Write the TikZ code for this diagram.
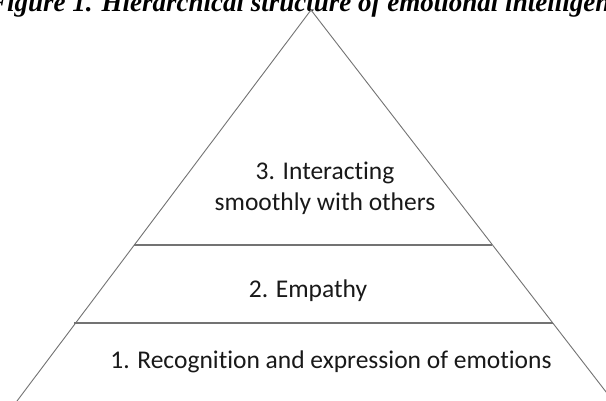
\documentclass[tikz,border=0pt]{standalone}
\usepackage{fontspec}
\setmainfont[Ligatures=NoCommon]{Carlito}
\newfontfamily\titlefont{Liberation Serif}
\begin{document}
\begin{tikzpicture}[x=1pt,y=-1pt,
  side/.style={draw=black!55,line width=0.9pt},
  layer/.style={draw=black!55,line width=1.1pt},
  lbl/.style={font=\fontsize{25.5}{31}\selectfont,text=black!90,align=center,inner sep=0pt}]
\useasboundingbox (0,0) rectangle (606,401);
\clip (0,0) rectangle (606,401);
\fill[white] (0,0) rectangle (606,401);
% title (partially cut at the top)
\node[anchor=base west,inner sep=0pt,font=\titlefont\bfseries\itshape\fontsize{27}{32}\selectfont] (title) at (-11,12) {Figure 1. Hierarchical structure of emotional intelligence};
% pyramid
\coordinate (apex) at (311,10);
\coordinate (bl) at (11,409);
\coordinate (br) at (620,410);
\coordinate (l1) at (134,245);
\coordinate (r1) at (492,245);
\coordinate (l2) at (74,323);
\coordinate (r2) at (553,323);
\draw[side] (bl) -- (apex) -- (br);
\draw[layer] (l1) -- (r1);
\draw[layer] (l2) -- (r2);
% labels
\node[lbl] (t3) at (325,188) {3. Interacting\\smoothly with others};
\node[lbl] (t2) at (308,291) {2. Empathy};
\node[lbl] (t1) at (331,362) {1. Recognition and expression of emotions};
\end{tikzpicture}
\end{document}
